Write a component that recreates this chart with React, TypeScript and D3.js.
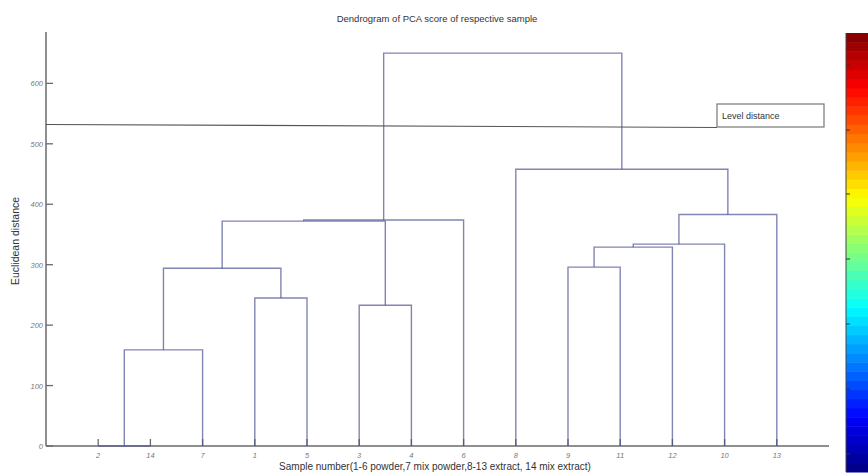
import React from 'react';
import * as d3 from 'd3';

// leaf order along the x axis (sample numbers)
const leafOrder = [2, 14, 7, 1, 5, 3, 4, 6, 8, 9, 11, 12, 10, 13];

// linkage rows: ids 1-14 are samples, 15+ are merged clusters (in order)
const mergeLeft = [2, 15, 1, 3, 16, 19, 20, 9, 22, 23, 24, 8, 21];
const mergeRight = [14, 7, 5, 4, 17, 18, 6, 11, 12, 10, 13, 25, 26];
const mergeHeight = [0, 159, 245, 233, 294, 372, 374, 296, 329, 334, 383, 458, 650];

const yTicks = [0, 100, 200, 300, 400, 500, 600];
const levelDistance = [532, 527]; // drawn slightly slanted, as in the scan

const titleText = 'Dendrogram of PCA score of respective sample';
const xLabelText = 'Sample number(1-6 powder,7 mix powder,8-13 extract, 14 mix extract)';
const yLabelText = 'Euclidean distance';

const W = 868, H = 473;
const margin = {top: 32, right: 39, bottom: 27, left: 46};

// matlab style jet colormap
function jet(t: number) {
    const c = (v: number) => Math.max(0, Math.min(1, v));
    const r = c(1.5 - Math.abs(4 * t - 3));
    const g = c(1.5 - Math.abs(4 * t - 2));
    const b = c(1.5 - Math.abs(4 * t - 1));
    return d3.rgb(r * 255, g * 255, b * 255).toString();
}

export default function App() {
    const x = d3.scaleLinear().domain([0, 15]).range([margin.left, W - margin.right]);
    const y = d3.scaleLinear().domain([0, 685]).range([H - margin.bottom, margin.top]);

    // positions of leaves and clusters
    const pos: Record<number, number> = {};
    const hgt: Record<number, number> = {};
    leafOrder.forEach((id, i) => { pos[id] = i + 1; hgt[id] = 0; });
    const links = mergeLeft.map((l, i) => {
        const id = 15 + i;
        const r = mergeRight[i];
        pos[id] = (pos[l] + pos[r]) / 2;
        hgt[id] = mergeHeight[i];
        const p = d3.path();
        p.moveTo(x(pos[l]), y(hgt[l]));
        p.lineTo(x(pos[l]), y(mergeHeight[i]));
        p.lineTo(x(pos[r]), y(mergeHeight[i]));
        p.lineTo(x(pos[r]), y(hgt[r]));
        return p.toString();
    });

    const y0 = y(0);
    const axisColor = '#6a6a6a';

    // colorbar
    const cbX = 846, cbTop = 33, cbBottom = 472, nBands = 48;
    const band = d3.scaleBand<number>().domain(d3.range(nBands)).range([cbBottom, cbTop]);
    const cbTicks = [65, 130, 194, 259, 324, 389, 454];

    return (
        <svg width={W} height={H} style={{position: 'absolute', left: 0, top: 0, background: '#fff'}}
             fontFamily="'Liberation Sans', Arial, sans-serif">
            <text x={437} y={22} textAnchor="middle" fontSize={9.5} fill="#333">{titleText}</text>

            {/* axes */}
            <line x1={x(0)} x2={x(0)} y1={y(685)} y2={y0} stroke={axisColor} strokeWidth={1.5}/>
            <line x1={x(0)} x2={x(15)} y1={y0} y2={y0} stroke={axisColor} strokeWidth={1.5}/>
            {yTicks.map(t => (
                <g key={t}>
                    <line x1={x(0)} x2={x(0) + 7} y1={y(t)} y2={y(t)} stroke={axisColor} strokeWidth={1.3}/>
                    <text x={x(0) - 3} y={y(t) + 3} textAnchor="end" fontSize={7.5} fontStyle="italic" fill="#777">{t}</text>
                </g>
            ))}
            {leafOrder.map((id, i) => (
                <g key={id}>
                    <line x1={x(i + 1)} x2={x(i + 1)} y1={y0} y2={y0 - 7} stroke={axisColor} strokeWidth={1.3}/>
                    <text x={x(i + 1)} y={y0 + 12} textAnchor="middle" fontSize={7.5} fontStyle="italic" fill="#777">{id}</text>
                </g>
            ))}

            {/* dendrogram */}
            <g fill="none" stroke="#4d5192" strokeWidth={1.4} strokeOpacity={0.7}>
                {links.map((d, i) => <path key={i} d={d}/>)}
            </g>

            {/* level distance */}
            <line x1={x(0)} y1={y(levelDistance[0])} x2={717} y2={y(levelDistance[1])} stroke="#555" strokeWidth={1.1}/>
            <rect x={717} y={104} width={107} height={23} fill="#fff" stroke="#777" strokeWidth={1.2}/>
            <text x={722} y={118.5} fontSize={9} fill="#333">Level distance</text>

            <text x={435} y={470} textAnchor="middle" fontSize={10} fill="#333">{xLabelText}</text>
            <text transform={`translate(19,${241}) rotate(-90)`} textAnchor="middle" fontSize={10.5} fill="#333">{yLabelText}</text>

            {/* colorbar */}
            <g>
                {d3.range(nBands).map(i => (
                    <rect key={i} x={cbX} y={band(i)} width={W - cbX + 2} height={band.bandwidth() + 0.5}
                          fill={jet((i + 0.5) / nBands)}/>
                ))}
                <line x1={cbX} x2={cbX} y1={cbTop} y2={cbBottom} stroke="#444" strokeWidth={1}/>
                {cbTicks.map(t => (
                    <line key={t} x1={cbX} x2={cbX + 4} y1={t} y2={t} stroke="#333" strokeWidth={1}/>
                ))}
            </g>
        </svg>
    );
}
